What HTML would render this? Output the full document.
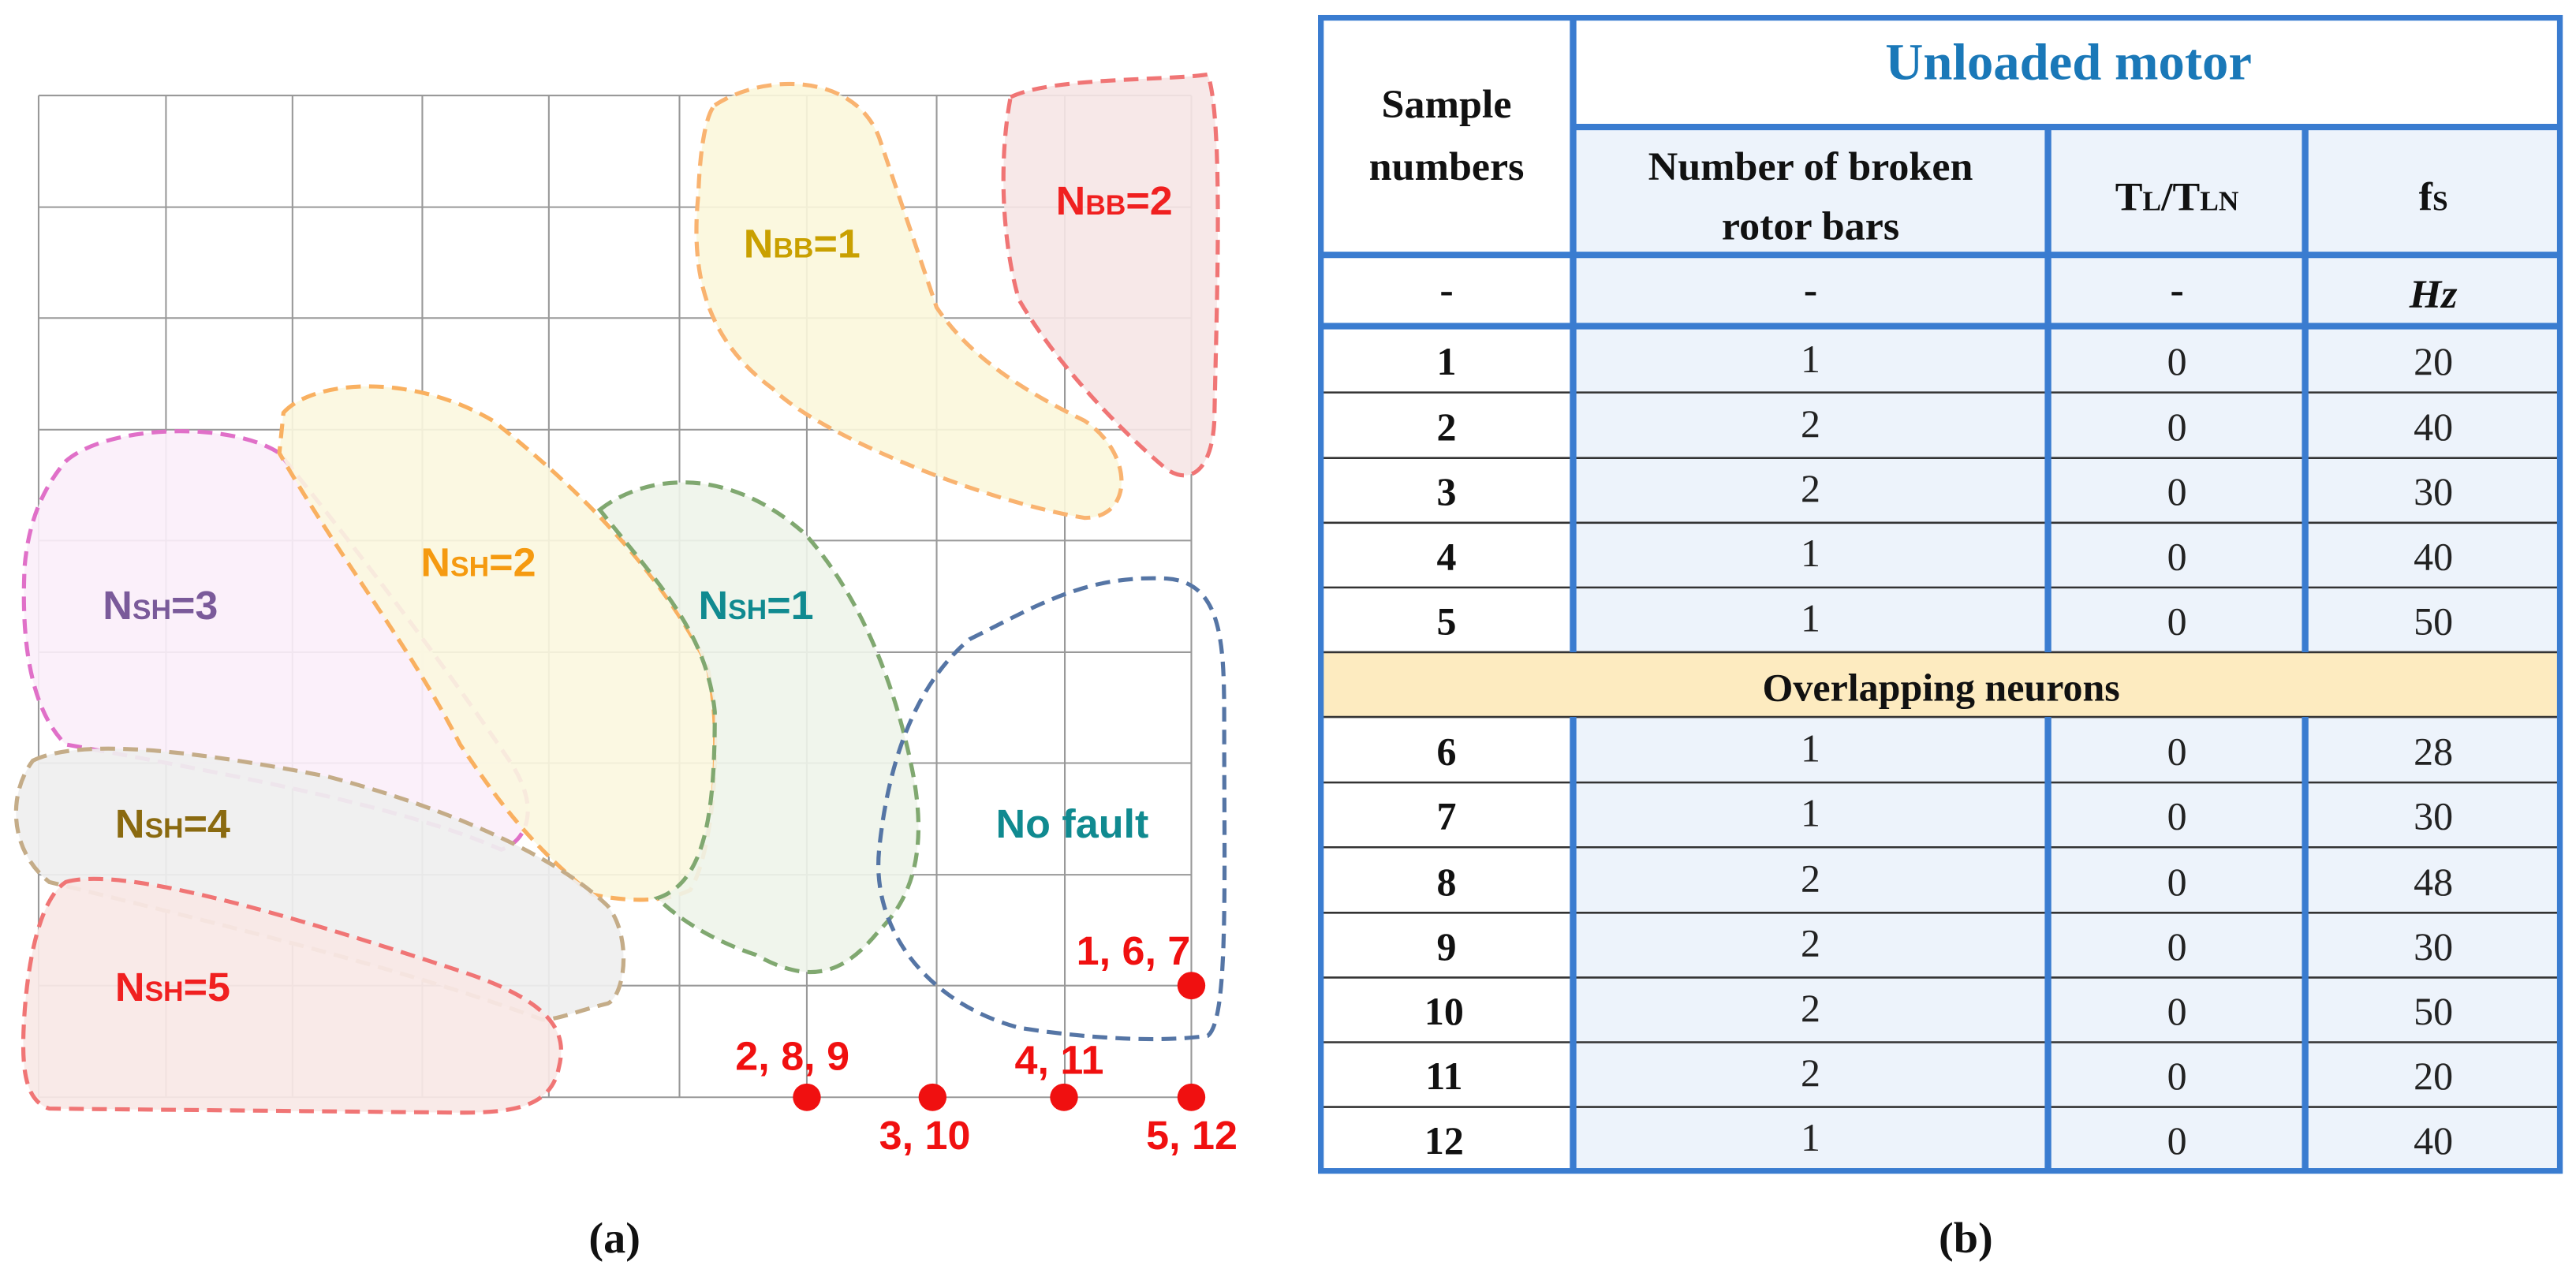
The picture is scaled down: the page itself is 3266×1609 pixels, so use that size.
<!DOCTYPE html>
<html><head><meta charset="utf-8"><style>
html,body{margin:0;padding:0;background:#fff}
svg{display:block}
.lb{font-family:"Liberation Sans",sans-serif;font-weight:bold;font-size:50px}
.sb{font-size:34px}
.tf{font-family:"Liberation Serif",serif;font-weight:bold;fill:#111}
.tn{font-family:"Liberation Serif",serif;fill:#222;font-size:48px}
</style></head><body>
<svg width="3266" height="1609" viewBox="0 0 3266 1609" xmlns="http://www.w3.org/2000/svg">
<g transform="scale(1.0417,1.026)">
  <g stroke="#999" stroke-width="2" fill="none">
    <path d="M47,118V1356M202,118V1356M356,118V1356M514,118V1356M668,118V1356M827,118V1356M982,118V1356M1140,118V1356M1296,118V1356M1450,118V1356"/>
    <path d="M47,118H1450M47,256H1450M47,393H1450M47,531H1450M47,668H1450M47,806H1450M47,943H1450M47,1081H1450M47,1218H1450M47,1356H1450"/>
  </g>
  <g stroke-width="5" stroke-dasharray="18,10">
    <path fill="#fbf7dc" fill-opacity="0.9" stroke="#f9b370" d="M870,130 C930,90 1040,90 1070,170 L1140,380 C1180,440 1240,480 1320,520 C1380,560 1380,640 1320,640 C1200,620 1000,540 940,480 C860,420 840,340 850,240 C852,180 860,140 870,130 Z"/>
    <path fill="#f6e6e6" fill-opacity="0.9" stroke="#f07575" d="M1230,120 C1280,95 1420,100 1470,92 C1490,150 1480,400 1478,520 C1475,580 1450,600 1420,580 C1350,520 1280,440 1240,370 C1220,300 1215,200 1230,120 Z"/>
    <path fill="#fbeefa" fill-opacity="0.9" stroke="#e070c8" d="M80,570 C130,525 280,520 340,560 C420,660 540,820 620,940 C660,1000 640,1040 610,1050 C500,1000 300,960 80,920 C40,880 25,800 30,700 C35,640 55,600 80,570 Z"/>
    <path fill="#fbf7df" fill-opacity="0.9" stroke="#f9b060" d="M345,510 C380,470 500,460 600,520 C700,600 800,700 860,820 C880,900 870,1050 840,1100 C800,1120 740,1110 720,1105 C640,1040 600,980 560,920 C500,800 420,700 340,560 Z"/>
    <path fill="#eef4ea" fill-opacity="0.9" stroke="#80a870" d="M730,630 C780,590 880,570 980,660 C1050,740 1090,850 1110,950 C1130,1050 1110,1110 1070,1150 C1030,1200 990,1220 920,1180 C860,1160 820,1130 800,1110 C860,1090 870,1000 870,880 C860,780 800,720 730,630 Z"/>
    <path fill="none" stroke="#5575a5" d="M1180,790 C1260,750 1320,710 1420,715 C1490,720 1490,800 1490,900 C1490,1100 1495,1260 1470,1280 C1400,1290 1300,1280 1240,1270 C1130,1240 1060,1150 1070,1050 C1080,950 1110,850 1180,790 Z"/>
    <path fill="#efefef" fill-opacity="0.92" stroke="#c4ac88" d="M40,940 C100,910 250,930 400,960 C550,1000 680,1060 740,1120 C770,1160 760,1230 740,1240 C700,1250 680,1260 660,1260 C500,1200 300,1150 60,1090 C10,1050 10,980 40,940 Z"/>
    <path fill="#f8e8e6" fill-opacity="0.92" stroke="#f07575" d="M80,1090 C150,1070 350,1130 560,1200 C680,1240 690,1280 680,1320 C670,1370 620,1375 560,1375 L60,1370 C30,1360 25,1320 30,1250 C35,1180 50,1110 80,1090 Z"/>
  </g>
  <text class="lb" x="905" y="318" fill="#c9a000">N<tspan class="sb">BB</tspan>=1</text>
  <text class="lb" x="1285" y="265" fill="#f02020">N<tspan class="sb">BB</tspan>=2</text>
  <text class="lb" x="125" y="765" fill="#7a5a9a">N<tspan class="sb">SH</tspan>=3</text>
  <text class="lb" x="512" y="712" fill="#f59a10">N<tspan class="sb">SH</tspan>=2</text>
  <text class="lb" x="850" y="765" fill="#108a90">N<tspan class="sb">SH</tspan>=1</text>
  <text class="lb" x="140" y="1035" fill="#8a6a10">N<tspan class="sb">SH</tspan>=4</text>
  <text class="lb" x="140" y="1237" fill="#f02020">N<tspan class="sb">SH</tspan>=5</text>
  <text class="lb" x="1212" y="1035" fill="#108a90">No fault</text>
  <g fill="#f01010">
    <circle cx="982" cy="1356" r="17"/><circle cx="1135" cy="1356" r="17"/><circle cx="1295" cy="1356" r="17"/><circle cx="1450" cy="1356" r="17"/><circle cx="1450" cy="1218" r="17"/>
  </g>
  <g class="lb" fill="#f01010">
    <text x="1310" y="1192">1, 6, 7</text>
    <text x="895" y="1322">2, 8, 9</text>
    <text x="1070" y="1420">3, 10</text>
    <text x="1235" y="1327">4, 11</text>
    <text x="1395" y="1420">5, 12</text>
  </g>
  <text class="tf" x="748" y="1548" font-size="54" text-anchor="middle">(a)</text>
</g>
<g transform="translate(1633,0) scale(1.0417,1.026)">
  <rect x="38" y="22" width="1512" height="1425" fill="#fff"/>
  <rect x="347" y="157" width="1203" height="1290" fill="#edf3fb"/>
  <rect x="38" y="806" width="1512" height="80" fill="#fdebc0"/>
  <g stroke="#333" stroke-width="2.5">
    <path d="M38,485H1550M38,566H1550M38,646H1550M38,726H1550M38,806H1550M38,886H1550M38,967H1550M38,1047H1550M38,1128H1550M38,1208H1550M38,1288H1550M38,1368H1550M38,1447H1550"/>
  </g>
  <g stroke="#3a7cd0" stroke-width="8" fill="none">
    <rect x="40" y="22" width="1508" height="1425" stroke-width="7"/>
    <path d="M347,22V806M347,886V1447M925,157V806M925,886V1447M1238,157V806M1238,886V1447"/>
    <path d="M347,157H1550M40,315H1550M40,403H1550"/>
  </g>
  <text x="950" y="98" text-anchor="middle" class="tf" font-size="64" style="fill:#1a78b8">Unloaded motor</text>
  <g class="tf" font-size="50" text-anchor="middle">
    <text x="193" y="145">Sample</text>
    <text x="193" y="222">numbers</text>
    <text x="636" y="222">Number of broken</text>
    <text x="636" y="296">rotor  bars</text>
    <text x="1082" y="260">T<tspan font-size="34">L</tspan>/T<tspan font-size="34">LN</tspan></text>
    <text x="1394" y="260">f<tspan font-size="34">S</tspan></text>
    <text x="193" y="375">-</text><text x="636" y="375">-</text><text x="1082" y="375">-</text>
    <text x="1394" y="380" font-style="italic">Hz</text>
    <text x="795" y="866" font-size="48">Overlapping   neurons</text>
  </g>
  <g class="tf" font-size="48" text-anchor="middle">
    <text x="193" y="463">1</text><text x="193" y="544">2</text><text x="193" y="624">3</text><text x="193" y="704">4</text><text x="193" y="784">5</text>
    <text x="193" y="945">6</text><text x="193" y="1025">7</text><text x="193" y="1106">8</text><text x="193" y="1186">9</text><text x="190" y="1266">10</text><text x="190" y="1346">11</text><text x="190" y="1426">12</text>
  </g>
  <g class="tn" text-anchor="middle">
    <text x="636" y="460">1</text><text x="1082" y="463">0</text><text x="1394" y="463">20</text>
    <text x="636" y="540">2</text><text x="1082" y="544">0</text><text x="1394" y="544">40</text>
    <text x="636" y="620">2</text><text x="1082" y="624">0</text><text x="1394" y="624">30</text>
    <text x="636" y="700">1</text><text x="1082" y="704">0</text><text x="1394" y="704">40</text>
    <text x="636" y="780">1</text><text x="1082" y="784">0</text><text x="1394" y="784">50</text>
    <text x="636" y="941">1</text><text x="1082" y="945">0</text><text x="1394" y="945">28</text>
    <text x="636" y="1021">1</text><text x="1082" y="1025">0</text><text x="1394" y="1025">30</text>
    <text x="636" y="1102">2</text><text x="1082" y="1106">0</text><text x="1394" y="1106">48</text>
    <text x="636" y="1182">2</text><text x="1082" y="1186">0</text><text x="1394" y="1186">30</text>
    <text x="636" y="1262">2</text><text x="1082" y="1266">0</text><text x="1394" y="1266">50</text>
    <text x="636" y="1342">2</text><text x="1082" y="1346">0</text><text x="1394" y="1346">20</text>
    <text x="636" y="1422">1</text><text x="1082" y="1426">0</text><text x="1394" y="1426">40</text>
  </g>
  <text class="tf" x="825" y="1548" font-size="54" text-anchor="middle">(b)</text>
</g>
</svg>
</body></html>
